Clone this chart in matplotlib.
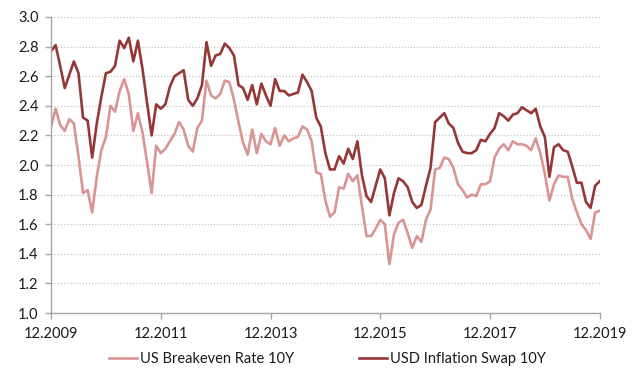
import numpy as np
import matplotlib.pyplot as plt

# monthly observations, 12.2009 .. 12.2019
breakeven_10y = [
    2.26, 2.38, 2.27, 2.23, 2.31, 2.28, 2.06, 1.81, 1.83, 1.68,
    1.92, 2.10, 2.19, 2.40, 2.36, 2.50, 2.58, 2.48, 2.23, 2.35,
    2.22, 2.02, 1.81, 2.13, 2.08, 2.11, 2.16, 2.21, 2.29, 2.24,
    2.13, 2.09, 2.25, 2.30, 2.57, 2.47, 2.45, 2.48, 2.57, 2.56,
    2.44, 2.29, 2.15, 2.07, 2.24, 2.08, 2.21, 2.16, 2.14, 2.25,
    2.13, 2.20, 2.16, 2.18, 2.19, 2.26, 2.24, 2.16, 1.95, 1.94,
    1.76, 1.65, 1.68, 1.85, 1.84, 1.94, 1.89, 1.93, 1.72, 1.52,
    1.52, 1.57, 1.63, 1.60, 1.33, 1.53, 1.61, 1.63, 1.54, 1.44,
    1.52, 1.48, 1.63, 1.70, 1.97, 1.98, 2.05, 2.04, 1.98, 1.87,
    1.83, 1.78, 1.80, 1.79, 1.87, 1.87, 1.89, 2.05, 2.11, 2.14,
    2.10, 2.16, 2.14, 2.14, 2.13, 2.10, 2.18, 2.08, 1.94, 1.76,
    1.87, 1.93, 1.92, 1.92, 1.77, 1.68, 1.60, 1.56, 1.50, 1.68,
    1.69,
]
swap_10y = [
    2.77, 2.81, 2.67, 2.52, 2.61, 2.70, 2.62, 2.32, 2.30, 2.05,
    2.28, 2.46, 2.62, 2.63, 2.67, 2.84, 2.79, 2.86, 2.70, 2.84,
    2.65, 2.42, 2.20, 2.41, 2.38, 2.41, 2.53, 2.60, 2.62, 2.64,
    2.44, 2.40, 2.45, 2.54, 2.83, 2.67, 2.74, 2.75, 2.82, 2.79,
    2.74, 2.54, 2.52, 2.44, 2.54, 2.41, 2.55, 2.47, 2.40, 2.58,
    2.50, 2.50, 2.47, 2.48, 2.49, 2.61, 2.56, 2.50, 2.32, 2.26,
    2.08, 1.97, 1.97, 2.06, 2.01, 2.11, 2.04, 2.16, 1.93, 1.79,
    1.75, 1.86, 1.97, 1.91, 1.66, 1.81, 1.91, 1.89, 1.85, 1.75,
    1.71, 1.73, 1.86, 1.98, 2.29, 2.32, 2.35, 2.28, 2.25, 2.15,
    2.09, 2.08, 2.08, 2.10, 2.17, 2.16, 2.21, 2.25, 2.35, 2.33,
    2.30, 2.34, 2.35, 2.39, 2.37, 2.35, 2.38, 2.26, 2.19, 1.92,
    2.12, 2.14, 2.10, 2.09, 1.99, 1.88, 1.88, 1.75, 1.71, 1.86,
    1.89,
]
tick_labels = ['12.2009', '12.2011', '12.2013', '12.2015', '12.2017', '12.2019']
y_ticks = [1.0, 1.2, 1.4, 1.6, 1.8, 2.0, 2.2, 2.4, 2.6, 2.8, 3.0]

plt.rcParams['font.family'] = ['Lato', 'DejaVu Sans']
plt.rcParams['font.size'] = 10.5
txt = '#1a1a1a'
axis_grey = '#a6a6a6'

months = np.arange(len(swap_10y))

fig = plt.figure(figsize=(6.38, 3.71), dpi=100)
ax = fig.add_axes([0.080, 0.1563, 0.860, 0.7979])

ax.plot(months, breakeven_10y, color='#d99594', lw=1.9, label='US Breakeven Rate 10Y')
ax.plot(months, swap_10y, color='#953735', lw=1.9, label='USD Inflation Swap 10Y')

ax.set_xlim(0, 120)
ax.set_ylim(1.0, 3.0)
ax.set_xticks(np.arange(0, 121, 24))
ax.set_xticklabels(tick_labels)
ax.set_yticks(y_ticks)
ax.set_yticklabels([f'{v:.1f}' for v in y_ticks])

ax.grid(axis='y', linestyle=(0, (1, 1.5)), color='#c8c8c8', lw=0.9)
ax.set_axisbelow(True)
for side in ('top', 'right'):
    ax.spines[side].set_visible(False)
for side in ('left', 'bottom'):
    ax.spines[side].set_color(axis_grey)
    ax.spines[side].set_linewidth(1.0)
ax.tick_params(axis='both', colors=axis_grey, labelcolor=txt, length=4, width=1.0)
ax.tick_params(axis='x', pad=6)
ax.tick_params(axis='y', pad=5)

fig.legend(loc='center', bbox_to_anchor=(0.513, 0.032), ncol=2, frameon=False,
           handlelength=1.95, columnspacing=4.4, handletextpad=0.2,
           labelcolor=txt)

fig.savefig('out.png', dpi=100)
